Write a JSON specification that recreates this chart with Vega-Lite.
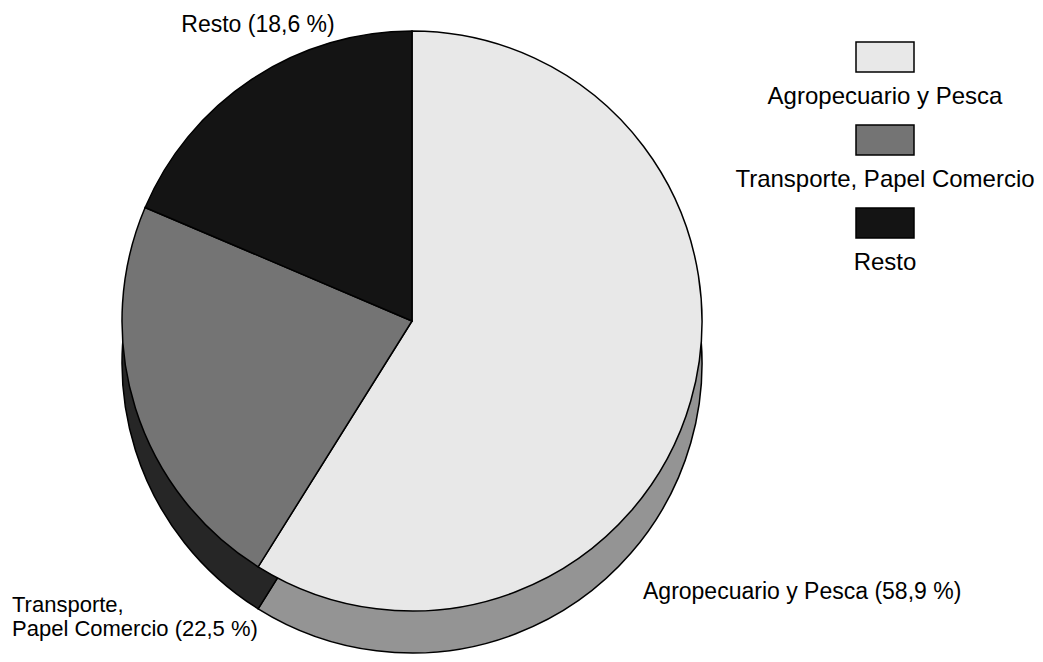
{
  "$schema": "https://vega.github.io/schema/vega-lite/v6.json",
  "padding": 0,
  "bounds": "flush",
  "spacing": 0,
  "background": "white",
  "config": {"view": {"stroke": null}, "font": "Liberation Sans", "text": {"font": "Liberation Sans", "color": "#000"}},
  "datasets": {
    "d": [
      {"cat": "Agropecuario y Pesca", "pct": 58.9, "orden": 1, "label": "Agropecuario y Pesca (58,9 %)"},
      {"cat": "Transporte, Papel Comercio", "pct": 22.5, "orden": 2, "label": "Transporte,\nPapel Comercio (22,5 %)"},
      {"cat": "Resto", "pct": 18.6, "orden": 3, "label": "Resto (18,6 %)"}
    ]
  },
  "hconcat": [
    {
      "width": 824,
      "height": 642,
      "data": {"name": "d"},
      "layer": [
        {
          "mark": {"type": "arc", "radius": 290, "yOffset": 42, "stroke": "#000", "strokeWidth": 1.5},
          "encoding": {
            "theta": {"field": "pct", "type": "quantitative", "stack": true},
            "order": {"field": "orden", "type": "quantitative"},
            "fill": {"field": "cat", "type": "nominal", "legend": null,
              "scale": {"domain": ["Agropecuario y Pesca", "Transporte, Papel Comercio", "Resto"], "range": ["#949494", "#262626", "#111111"]}}
          }
        },
        {
          "mark": {"type": "arc", "radius": 290, "stroke": "#000", "strokeWidth": 1.5},
          "encoding": {
            "theta": {"field": "pct", "type": "quantitative", "stack": true},
            "order": {"field": "orden", "type": "quantitative"},
            "color": {"field": "cat", "type": "nominal", "legend": null,
              "scale": {"domain": ["Agropecuario y Pesca", "Transporte, Papel Comercio", "Resto"], "range": ["#e8e8e8", "#747474", "#141414"]}}
          }
        },
        {
          "transform": [{"filter": "datum.orden == 3"}],
          "mark": {"type": "text", "align": "center", "baseline": "alphabetic", "dx": -154, "dy": -289, "fontSize": 23},
          "encoding": {"text": {"field": "label"}}
        },
        {
          "transform": [{"filter": "datum.orden == 1"}],
          "mark": {"type": "text", "align": "left", "baseline": "alphabetic", "dx": 231, "dy": 278, "fontSize": 23},
          "encoding": {"text": {"field": "label"}}
        },
        {
          "transform": [{"filter": "datum.orden == 2"}],
          "mark": {"type": "text", "align": "left", "baseline": "alphabetic", "dx": -400, "dy": 291, "fontSize": 22, "lineBreak": "\n", "lineHeight": 24},
          "encoding": {"text": {"field": "label"}}
        }
      ]
    },
    {
      "width": 122,
      "height": 280,
      "data": {"name": "d"},
      "encoding": {
        "y": {"field": "cat", "type": "nominal", "axis": null,
          "sort": ["Agropecuario y Pesca", "Transporte, Papel Comercio", "Resto"],
          "scale": {"type": "point", "padding": 0.687}}
      },
      "layer": [
        {
          "mark": {"type": "point", "shape": "M-1,-0.517L1,-0.517L1,0.517L-1,0.517Z", "filled": true, "size": 3364, "stroke": "#000", "strokeWidth": 1.5, "opacity": 1},
          "encoding": {
            "color": {"field": "cat", "type": "nominal", "legend": null,
              "scale": {"domain": ["Agropecuario y Pesca", "Transporte, Papel Comercio", "Resto"], "range": ["#e8e8e8", "#747474", "#141414"]}}
          }
        },
        {
          "mark": {"type": "text", "align": "center", "baseline": "middle", "dy": 40, "fontSize": 24},
          "encoding": {"text": {"field": "cat"}}
        }
      ]
    }
  ]
}
